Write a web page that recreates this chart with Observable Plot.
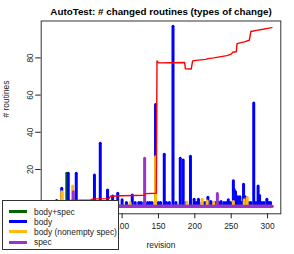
<!DOCTYPE html>
<html><head><meta charset="utf-8">
<script src="https://cdn.jsdelivr.net/npm/d3@7"></script>
<script src="https://cdn.jsdelivr.net/npm/@observablehq/plot@0.6"></script>
<style>
html,body{margin:0;padding:0;background:#fff;}
#wrap{position:relative;width:294px;height:254px;font-family:"Liberation Sans",Arial,sans-serif;}
#legend{position:absolute;left:2px;top:200px;width:117px;height:50px;border:1px solid #333;background:#fff;box-sizing:border-box;font-size:8.4px;color:#222;}
#legend .row{position:absolute;left:0;height:10px;line-height:10px;white-space:nowrap;}
#legend .sw{position:absolute;left:6px;top:3.5px;width:18px;height:3px;}
#legend .lab{position:absolute;left:31px;top:0;}
</style>
</head><body>
<div id="wrap"><div id="chart"></div><div id="legend"></div></div>
<script>
// revisions 1..306
const firstRev = 1, lastRev = 306;

// series: body+spec (green)
const bodySpecRev = [24];
const bodySpecVal = [17.7];

// series: body (blue)
const bodyRev = [10,17,26,37,62,70,80,87,94,100,106,114,118,123,126,130,135,138,141,146,150,153,158,161,165,170,174,180,184,188,194,199,202,205,210,214,218,222,226,229,233,236,240,243,246,249,253,254,256,259,262,264,267,269,271,274,277,281,284,287,289,292,295,299,302,304];
const bodyVal = [3,9.6,17.7,17.7,16.8,33.8,8.7,5.5,7,3.4,2,6,2,2,2,2,2,2,2,54.7,2,2,27.9,2,2,96.7,2,25.7,24.8,2,26.8,3.7,2,3.7,2,2,4.8,2.5,2,2,2,2.5,2,2,3.4,2,13.7,9,7.8,5.1,5.1,2,11.8,5,4.6,2,2,55.5,2,10.9,5.7,2,2,3.7,2,2];

// series: body (nonempty spec) (orange)
const nonemptyRev = [17,32,111,146,189,210,217,226,253,268,272];
const nonemptyVal = [7.8,10.9,1.9,26.6,2.3,3.7,2.8,2.3,2.5,3.4,4.6];

// series: spec (purple)
const specRev = [33,131,231];
const specVal = [7.8,25.7,6.8];

// red line
const redRev = [27,45,57,60,82,84,100,130,132,147,148,150,186,187,195,197,205,215,218,226,236,244,250,252,257,258,268,275,277,285,294,300,306];
const redVal = [3.4,3.5,3.6,4.2,4.3,5.6,5.9,6.1,7.0,7.2,78.4,77.3,77.5,74.2,74.0,78.4,78.8,79.2,79.6,80.0,80.7,81.2,82.0,83.0,83.3,87.7,88.6,89.5,94.2,94.8,95.4,95.9,96.3];

// ticks (0 and 50 lie under the legend box in the reference)
const xTicks = [100,150,200,250,300];
const yTicks = [20,40,60,80];
const titleText = "AutoTest: # changed routines (types of change)";
const xLabel = "revision";
const yLabel = "# routines";
const legendNames = ["body+spec","body","body (nonempty spec)","spec"];
const colors = ["#006400","#0000ff","#ffb90f","#9a32cd"];

const revisions = d3.range(firstRev, lastRev + 1);
function fullSeries(revs, vals){
  const m = new Map(revs.map((r,i)=>[r, vals[i]]));
  return revisions.map(r => ({rev:r, v: m.has(r) ? m.get(r) : 0}));
}
const sBodySpec = fullSeries(bodySpecRev, bodySpecVal);
const sBody = fullSeries(bodyRev, bodyVal);
const sNonempty = fullSeries(nonemptyRev, nonemptyVal);
const sSpec = fullSeries(specRev, specVal);
const red = redRev.map((r,i)=>({rev:r, v:redVal[i]}));

const bar = (data, color) => Plot.ruleX(data, {x:"rev", y1:0, y2:"v", stroke:color, strokeWidth:3, strokeLinecap:"round"});

const chart = Plot.plot({
  width:294, height:254,
  marginLeft:40.7, marginRight:13.7, marginTop:20.5, marginBottom:40.7,
  x:{domain:[-11.2,318.2]},
  y:{domain:[-3.84,99.84]},
  style:{fontFamily:"Liberation Sans, Arial, sans-serif", fontSize:"8.4px", background:"#fff", color:"#222"},
  marks:[
    bar(sBodySpec, colors[0]),
    bar(sBody, colors[1]),
    bar(sNonempty, colors[2]),
    bar(sSpec, colors[3]),
    Plot.line(red, {x:"rev", y:"v", stroke:"red", strokeWidth:1.4}),
    Plot.frame({stroke:"#333"}),
    Plot.axisX({ticks:xTicks, tickSize:5, tickPadding:4, label:xLabel, labelAnchor:"center", labelArrow:"none", labelOffset:34}),
    Plot.axisY({ticks:yTicks, tickSize:5.5, tickPadding:3, tickRotate:-90, label:null}),
    Plot.text([yLabel], {frameAnchor:"left", dx:-34.7, rotate:-90, fontSize:8.4}),
    Plot.text([titleText], {frameAnchor:"top", dy:-9.5, lineAnchor:"middle", fontWeight:"bold", fontSize:9.8, fill:"#000"})
  ]
});
document.getElementById("chart").appendChild(chart);

const lg = document.getElementById("legend");
legendNames.forEach((name,i)=>{
  const row = document.createElement("div");
  row.className = "row";
  row.style.top = (5.5 + i*10.2) + "px";
  row.innerHTML = `<span class="sw" style="background:${colors[i]}"></span><span class="lab">${name}</span>`;
  lg.appendChild(row);
});
</script>
</body></html>
